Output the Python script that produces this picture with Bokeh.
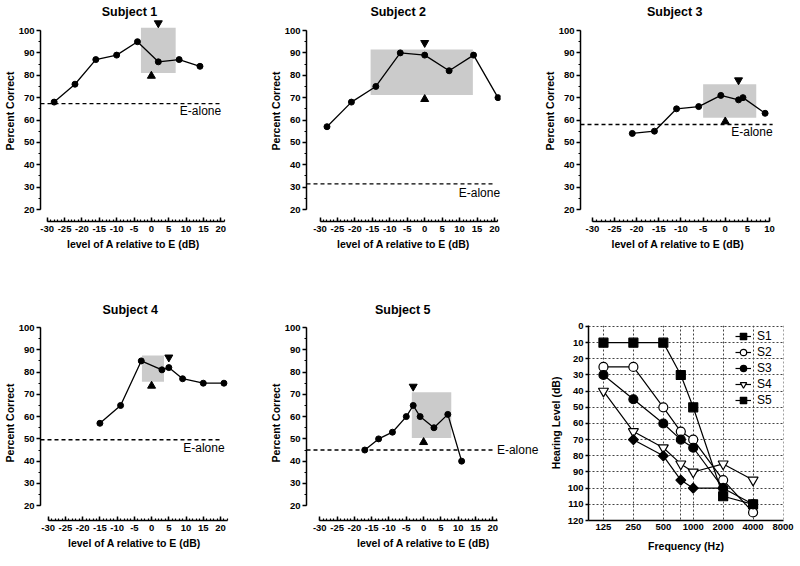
import numpy as np
from bokeh.plotting import figure
from bokeh.models import Range1d, FixedTicker, Label, Legend, LegendItem, Title
from bokeh.layouts import row, column
from bokeh.embed import file_html
from bokeh.resources import INLINE

FONT = "Liberation Sans"

# ---------------- data ----------------
subjects = ["Subject 1", "Subject 2", "Subject 3", "Subject 4", "Subject 5"]

level_s1 = [-28, -22, -16, -10, -4, 2, 8, 14]
pc_s1 = [68, 76, 87, 89, 95, 86, 87, 84]
level_s2 = [-28, -21, -14, -7, 0, 7, 14, 21]
pc_s2 = [57, 68, 75, 90, 89, 82, 89, 70]
level_s3 = [-21, -16, -11, -6, -1, 3, 4, 9]
pc_s3 = [54, 55, 65, 66, 71, 69, 70, 63]
level_s4 = [-15, -9, -3, 3, 5, 9, 15, 21]
pc_s4 = [57, 65, 85, 81, 82, 77, 75, 75]
level_s5 = [-17, -13, -9, -5, -3, -1, 3, 7, 11]
pc_s5 = [45, 50, 53, 60, 65, 60, 55, 61, 40]

ealone = [67.3, 31.5, 58, 49.6, 45]
ealone_end = [20, 20.3, 10.7, 20.4, 20.4]

box_left = [-3, -15.5, -5, -2.8, -3.4]
box_right = [7, 13.8, 7, 3.6, 8]
box_bottom = [81, 71.2, 61, 75.6, 50.4]
box_top = [101.2, 91.5, 76, 87.4, 70.9]

down_x = [2, 0, 3, 5, -3]
down_y = [103.3, 94.5, 77.8, 86.6, 73.5]
up_x = [0, 0, 0, 0, 0]
up_y = [79.7, 69.3, 59.3, 73.8, 48.5]

x_ticks_wide = [-30, -25, -20, -15, -10, -5, 0, 5, 10, 15, 20]
x_ticks_narrow = [-30, -25, -20, -15, -10, -5, 0, 5, 10]
y_ticks = [20, 30, 40, 50, 60, 70, 80, 90, 100]

freqs = [125, 250, 500, 750, 1000, 2000, 4000]
hl_s1 = [10, 10, 10, 30, 50, 105, 110]
hl_s2 = [25, 25, 50, 65, 70, 95, 115]
hl_s3 = [30, 45, 60, 70, 75, 100, 110]
hl_s4 = [40, 65, 75, 85, 90, 85, 95]
hl_s5 = [np.nan, 70, 80, 95, 100, 100, np.nan]
freq_ticks = [125, 250, 500, 1000, 2000, 4000, 8000]
freq_labels = ["125", "250", "500", "1000", "2000", "4000", "8000"]
freq_grid = [125, 250, 500, 750, 1000, 2000, 4000, 8000]
hl_ticks = [0, 10, 20, 30, 40, 50, 60, 70, 80, 90, 100, 110, 120]

# ---------------- layout parameters ----------------
ROW1_Y = (14.64, 113.41)
ROW2_Y = (13.36, 100.9)
panels = [
    dict(x=level_s1, y=pc_s1, w=262, bl=35, br=36, h=290, bt=0, bb=69,
         xr=(-31.93, 21.64), yr=ROW1_Y, xb=(-30, 21), xt=x_ticks_wide,
         tx=-6.3, ty=108.2, toff=None, lx=20.1, ly=64.2, la="right"),
    dict(x=level_s2, y=pc_s2, w=278, bl=44, br=40, h=290, bt=0, bb=69,
         xr=(-33.87, 21.72), yr=ROW1_Y, xb=(-30, 21), xt=x_ticks_wide,
         tx=-7.6, ty=108.2, toff=None, lx=21.6, ly=27.6, la="right"),
    dict(x=level_s3, y=pc_s3, w=260, bl=39, br=25, h=290, bt=0, bb=69,
         xr=(-32.7, 11.35), yr=ROW1_Y, xb=(-30, 10), xt=x_ticks_narrow,
         tx=-11.4, ty=108.2, toff=None, lx=10.7, ly=54.7, la="right"),
    dict(x=level_s4, y=pc_s4, w=262, bl=35, br=34, h=276, bt=35, bb=46,
         xr=(-32.24, 22.32), yr=ROW2_Y, xb=(-30, 22), xt=x_ticks_wide,
         tx=None, ty=None, toff=62, lx=21.2, ly=46.1, la="right"),
    dict(x=level_s5, y=pc_s5, w=283, bl=44, br=5, h=276, bt=35, bb=46,
         xr=(-33.84, 33.79), yr=ROW2_Y, xb=(-30, 21.5), xt=x_ticks_wide,
         tx=None, ty=None, toff=68.5, lx=21.2, ly=45.0, la="left"),
]


def style_axis_common(ax):
    ax.axis_line_width = 1.5
    ax.major_tick_line_width = 1.5
    ax.minor_tick_line_width = 1.2
    ax.axis_line_color = "black"
    ax.major_tick_line_color = "black"
    ax.minor_tick_line_color = "black"
    ax.major_label_text_font = FONT
    ax.major_label_text_font_style = "bold"
    ax.major_label_text_font_size = "9.5px"
    ax.major_label_text_color = "black"
    ax.axis_label_text_font = FONT
    ax.axis_label_text_font_style = "bold"
    ax.axis_label_text_font_size = "10.5px"
    ax.axis_label_text_color = "black"


def make_panel(i, d):
    p = figure(width=d["w"], height=d["h"], x_range=Range1d(*d["xr"]), y_range=Range1d(*d["yr"]),
               output_backend="svg", toolbar_location=None,
               min_border_left=d["bl"], min_border_right=d["br"],
               min_border_top=d["bt"], min_border_bottom=d["bb"])
    p.outline_line_color = None
    p.grid.visible = False
    p.background_fill_color = "white"
    p.border_fill_color = "white"

    p.quad(left=[box_left[i]], right=[box_right[i]], bottom=[box_bottom[i]], top=[box_top[i]],
           fill_color="#cbcbcb", line_color=None)
    p.line([d["xr"][0], ealone_end[i]], [ealone[i], ealone[i]], line_dash="4 3",
           line_color="black", line_width=1.3)
    p.line(d["x"], d["y"], line_color="black", line_width=1.3)
    p.scatter(d["x"], d["y"], marker="circle", size=6, color="black")
    p.scatter([down_x[i]], [down_y[i]], marker="inverted_triangle", size=8, color="black")
    p.scatter([up_x[i]], [up_y[i]], marker="triangle", size=8, color="black")

    p.add_layout(Label(x=d["lx"], y=d["ly"], text="E-alone", text_align=d["la"],
                       text_baseline="middle", text_font=FONT, text_font_size="12px",
                       text_color="black"))
    if d["toff"] is None:
        p.add_layout(Label(x=d["tx"], y=d["ty"], text=subjects[i], text_align="center",
                           text_baseline="middle", text_font=FONT, text_font_size="12.5px",
                           text_font_style="bold", text_color="black"))
    else:
        p.add_layout(Title(text=subjects[i], align="left", offset=d["toff"], standoff=18,
                           text_font=FONT, text_font_size="12.5px", text_font_style="bold",
                           text_color="black"), "above")

    ya = p.yaxis[0]
    style_axis_common(ya)
    ya.bounds = (20, 100)
    ya.ticker = FixedTicker(ticks=y_ticks, minor_ticks=list(range(20, 101, 5)))
    ya.major_tick_in = 0
    ya.major_tick_out = 4
    ya.minor_tick_in = 0
    ya.minor_tick_out = 2
    ya.major_label_standoff = 2
    ya.axis_label = "Percent Correct"
    ya.axis_label_standoff = 0

    xa = p.xaxis[0]
    style_axis_common(xa)
    xa.bounds = d["xb"]
    xa.ticker = FixedTicker(ticks=d["xt"], minor_ticks=list(range(-30, int(d["xb"][1]) + 1)))
    xa.major_label_overrides = {t: str(t) for t in d["xt"]}
    xa.major_tick_in = 4
    xa.major_tick_out = 0
    xa.minor_tick_in = 2
    xa.minor_tick_out = 0
    xa.major_label_standoff = 4
    xa.axis_label = "level of A relative to E (dB)"
    xa.axis_label_standoff = 3
    return p


figs = [make_panel(i, d) for i, d in enumerate(panels)]

# ---------------- audiogram ----------------
pa = figure(width=255, height=276, x_axis_type="log",
            x_range=Range1d(88.39, 8093), y_range=Range1d(120, -0.6),
            output_backend="svg", toolbar_location=None,
            min_border_left=43, min_border_right=17, min_border_top=35, min_border_bottom=46)
pa.outline_line_color = None
pa.background_fill_color = "white"
pa.border_fill_color = "white"
pa.xgrid.ticker = FixedTicker(ticks=freq_grid)
pa.ygrid.ticker = FixedTicker(ticks=hl_ticks)
pa.grid.grid_line_color = "#444444"
pa.grid.grid_line_dash = "2 2"
pa.grid.grid_line_width = 1

xa = pa.xaxis[0]
style_axis_common(xa)
xa.ticker = FixedTicker(ticks=freq_ticks, minor_ticks=[])
xa.major_label_overrides = {f: s for f, s in zip(freq_ticks, freq_labels)}
xa.major_tick_in = 0
xa.major_tick_out = 0
xa.minor_tick_in = 0
xa.minor_tick_out = 0
xa.major_label_standoff = 3
xa.axis_label = "Frequency (Hz)"
xa.axis_label_standoff = 7

ya = pa.yaxis[0]
style_axis_common(ya)
ya.ticker = FixedTicker(ticks=hl_ticks, minor_ticks=[])
ya.major_tick_in = 0
ya.major_tick_out = 3
ya.minor_tick_in = 0
ya.minor_tick_out = 0
ya.major_label_standoff = 2
ya.axis_label = "Hearing Level (dB)"
ya.axis_label_standoff = 3

series = [
    ("S1", hl_s1, "square", "black", 9, 0.0),
    ("S2", hl_s2, "circle", "white", 9, 0.0),
    ("S3", hl_s3, "circle", "black", 9, 0.0),
    ("S4", hl_s4, "inverted_triangle", "white", 10, 0.0),
    ("S5", hl_s5, "square", "black", 7, np.pi / 4),
]
items = []
for name, vals, marker, fill, size, ang in series:
    lr = pa.line(freqs, vals, line_color="black", line_width=1.2)
    sr = pa.scatter(freqs, vals, marker=marker, size=size, fill_color=fill,
                    line_color="black", line_width=1.2, angle=ang)
    items.append(LegendItem(label=name, renderers=[lr, sr]))

legend = Legend(items=items, location=(147, 112), glyph_width=16, glyph_height=16,
                label_height=16, spacing=0, padding=0, margin=0, label_standoff=6,
                border_line_color=None, background_fill_alpha=0,
                label_text_font=FONT, label_text_font_size="12px", label_text_color="black")
pa.add_layout(legend)

layout = column(row(figs[0], figs[1], figs[2], spacing=0),
                row(figs[3], figs[4], pa, spacing=0), spacing=0)

open("out.html", "w").write(file_html(layout, INLINE))
